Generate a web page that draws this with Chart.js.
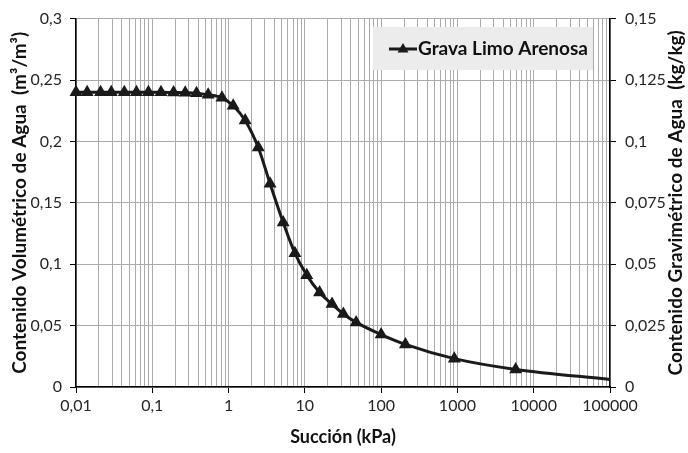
<!DOCTYPE html>
<html>
<head>
<meta charset="utf-8">
<script src="https://cdn.jsdelivr.net/npm/chart.js@4"></script>
<style>
  html, body { margin: 0; padding: 0; background: #fff; }
  #wrap { width: 688px; height: 453px; }
</style>
</head>
<body>
<div id="wrap"><canvas id="suctionChart" width="688" height="453"></canvas></div>
<script>
// values
const succion = [0.01, 0.014, 0.021, 0.029, 0.043, 0.062, 0.089, 0.13, 0.19, 0.27, 0.38, 0.54, 0.82,
  1.15, 1.65, 2.45, 3.5, 5.2, 7.4, 10.6, 15.6, 22.7, 32, 47, 100, 208, 910, 5800, 100000];
const contenido = [0.24, 0.24, 0.24, 0.24, 0.24, 0.24, 0.24, 0.24, 0.2398, 0.2396, 0.2393, 0.238, 0.2355,
  0.229, 0.217, 0.195, 0.1656, 0.134, 0.109, 0.0911, 0.0769, 0.0675, 0.0594, 0.0526, 0.0427, 0.0347, 0.0231, 0.0143, 0.0062];
const seriesName = "Grava Limo Arenosa";
const xTickLabels = ["0,01", "0,1", "1", "10", "100", "1000", "10000", "100000"];
const leftTickLabels = ["0", "0,05", "0,1", "0,15", "0,2", "0,25", "0,3"];
const rightTickLabels = ["0", "0,025", "0,05", "0,075", "0,1", "0,125", "0,15"];
const rightTitle = "Contenido Gravimétrico de Agua  (kg/kg)";

const FONT = "Lato";
const GRID = "#ababab";
const INK = "#1a1a1a";
const TICK_INK = "#262626";

// gridline positions 1..9 x 10^n over the log axis
const xGrid = [];
for (let e = -2; e < 5; e++) {
  for (let m = 1; m <= 9; m++) xGrid.push(m * Math.pow(10, e));
}
xGrid.push(100000);

function isDecade(v) {
  const l = Math.log10(v);
  return Math.abs(l - Math.round(l)) < 1e-9;
}

// legend box inside the plot + right title reading bottom to top
const extras = {
  id: "extras",
  afterDraw(chart) {
    const c = chart.ctx;
    const area = chart.chartArea;
    c.save();
    c.fillStyle = "#ececec";
    c.fillRect(373, 27, 220, 43);
    c.strokeStyle = INK;
    c.lineWidth = 3;
    c.beginPath();
    c.moveTo(389, 49);
    c.lineTo(417, 49);
    c.stroke();
    c.fillStyle = INK;
    c.beginPath();
    c.moveTo(403, 43);
    c.lineTo(408.5, 52.5);
    c.lineTo(397.5, 52.5);
    c.closePath();
    c.fill();
    c.fillStyle = "#111";
    c.font = "bold 19px " + FONT;
    c.textBaseline = "middle";
    c.fillText(seriesName, 418, 49);

    c.translate(676, (area.top + area.bottom) / 2);
    c.rotate(-Math.PI / 2);
    c.textAlign = "center";
    c.fillText(rightTitle, 0, 0);
    c.restore();
  }
};

new Chart(document.getElementById("suctionChart"), {
  type: "line",
  data: {
    labels: succion,
    datasets: [{
      label: seriesName,
      data: succion.map((x, i) => ({ x: x, y: contenido[i] })),
      borderColor: INK,
      backgroundColor: INK,
      borderWidth: 3,
      pointStyle: "triangle",
      pointRadius: (ctx) => ctx.dataIndex === succion.length - 1 ? 0 : 4.5,
      pointHoverRadius: 4.5,
      cubicInterpolationMode: "monotone",
      clip: false,
      yAxisID: "y",
    }],
  },
  options: {
    responsive: false,
    animation: false,
    events: [],
    layout: { padding: { top: 15, bottom: 0, left: 0, right: 0 } },
    plugins: {
      legend: { display: false },
      tooltip: { enabled: false },
    },
    scales: {
      x: {
        type: "logarithmic",
        min: 0.01,
        max: 100000,
        afterBuildTicks: (scale) => { scale.ticks = xGrid.map(v => ({ value: v })); },
        afterFit: (scale) => { scale.height = 66; },
        grid: {
          color: GRID,
          lineWidth: 1,
          tickLength: 6,
          tickColor: (ctx) => ctx.tick && isDecade(ctx.tick.value) ? "#000" : "rgba(0,0,0,0)",
        },
        border: { color: "#000", width: 1.5 },
        ticks: {
          autoSkip: false,
          maxRotation: 0,
          padding: 3,
          color: TICK_INK,
          font: { family: FONT, size: 16 },
          callback: (v) => isDecade(v) ? xTickLabels[Math.round(Math.log10(v)) + 2] : "",
        },
        title: {
          display: true,
          text: "Succión (kPa)",
          color: "#111",
          font: { family: FONT, size: 18, weight: "bold" },
          padding: { top: 0, bottom: 5 },
        },
      },
      y: {
        position: "left",
        min: 0,
        max: 0.3,
        afterFit: (scale) => { scale.width = 76; },
        grid: { color: GRID, tickLength: 6, tickColor: "#000" },
        border: { color: "#000", width: 1.5 },
        ticks: {
          stepSize: 0.05,
          padding: 8,
          color: TICK_INK,
          font: { family: FONT, size: 16 },
          callback: (v, i) => leftTickLabels[i],
        },
        title: {
          display: true,
          text: "Contenido Volumétrico de Agua  (m³/m³)",
          color: "#111",
          font: { family: FONT, size: 19, weight: "bold" },
          padding: { top: 8, bottom: 0 },
        },
      },
      y2: {
        position: "right",
        min: 0,
        max: 0.15,
        afterFit: (scale) => { scale.width = 78; },
        grid: { drawOnChartArea: false, tickLength: 6, tickColor: "#000" },
        border: { color: "#000", width: 1.5 },
        ticks: {
          stepSize: 0.025,
          padding: 9,
          color: TICK_INK,
          font: { family: FONT, size: 16 },
          callback: (v, i) => rightTickLabels[i],
        },
      },
    },
  },
  plugins: [extras],
});
</script>
</body>
</html>
